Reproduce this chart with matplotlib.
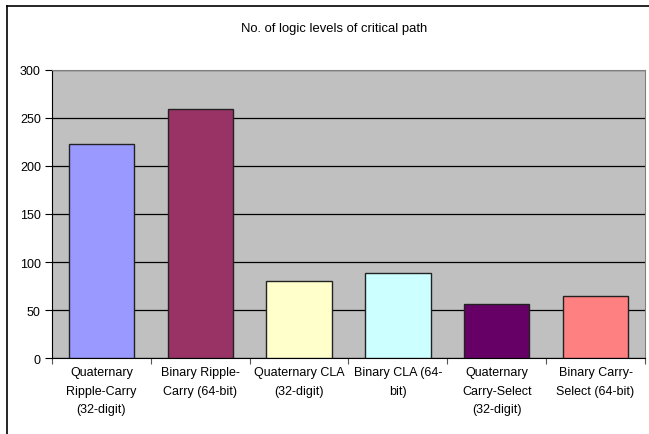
import matplotlib.pyplot as plt
from matplotlib.lines import Line2D

plt.rcParams['font.family'] = ['Liberation Sans', 'DejaVu Sans']

# Adder designs and their logic depth
categories = [
    "Quaternary\nRipple-Carry\n(32-digit)",
    "Binary Ripple-\nCarry (64-bit)",
    "Quaternary CLA\n(32-digit)",
    "Binary CLA (64-\nbit)",
    "Quaternary\nCarry-Select\n(32-digit)",
    "Binary Carry-\nSelect (64-bit)",
]
levels = [223, 259, 80, 89, 56, 65]
bar_colors = ["#9999FF", "#993366", "#FFFFCC", "#CCFFFF", "#660066", "#FF8080"]

fig = plt.figure(figsize=(6.49, 4.35), dpi=100)
ax = fig.add_axes([0.0801, 0.1747, 0.9137, 0.6621])
ax.set_facecolor("#C0C0C0")

x = list(range(len(levels)))
ax.bar(x, levels, width=0.66, color=bar_colors, edgecolor="#222222",
       linewidth=1.0, zorder=3)

ax.set_xlim(-0.5, len(levels) - 0.5)
ax.set_ylim(0, 300)
ax.set_yticks(range(0, 301, 50))
ax.yaxis.grid(True, color="black", linewidth=0.9, zorder=1)
ax.set_axisbelow(True)

# category ticks sit between bars, labels under the bar centres
ax.set_xticks([i + 0.5 for i in range(-1, len(levels))])
ax.set_xticklabels([])
ax.set_xticks(x, minor=True)
ax.set_xticklabels(categories, minor=True, fontsize=9, linespacing=1.7)
ax.tick_params(axis="x", which="minor", length=0, pad=6)
ax.tick_params(axis="x", which="major", length=4, color="#555555")
ax.tick_params(axis="y", length=5, labelsize=9, pad=3)

for side in ["top", "right"]:
    ax.spines[side].set_color("#808080")
ax.spines["left"].set_color("black")
ax.spines["bottom"].set_color("black")

fig.text(0.515, 0.934, "No. of logic levels of critical path",
         ha="center", va="center", fontsize=9.4)

# outer chart border (runs off the right and bottom edges)
fig.add_artist(Line2D([7 / 649, 7 / 649], [1 - 7 / 435, -0.05], color="black", lw=1.2))
fig.add_artist(Line2D([7 / 649, 1.05], [1 - 7 / 435, 1 - 7 / 435], color="black", lw=1.2))

fig.savefig("out.png", dpi=100)
